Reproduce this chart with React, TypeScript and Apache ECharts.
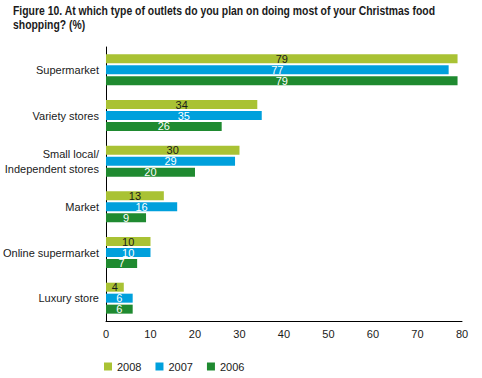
import React, { useEffect, useRef } from "react";
import * as echarts from "echarts";

const categories = [
  "Supermarket",
  "Variety stores",
  "Small local/\nIndependent stores",
  "Market",
  "Online supermarket",
  "Luxury store",
];
const values2008 = [79, 34, 30, 13, 10, 4];
const values2007 = [77, 35, 29, 16, 10, 6];
const values2006 = [79, 26, 20, 9, 7, 6];
const xTicks = [0, 10, 20, 30, 40, 50, 60, 70, 80];

const titleLine1 =
  "Figure 10. At which type of outlets do you plan on doing most of your Christmas food";
const titleLine2 = "shopping? (%)";

export default function App() {
  const ref = useRef<HTMLDivElement>(null);
  useEffect(() => {
    if (!ref.current) return;
    const chart = echarts.init(ref.current, null, { renderer: "svg" });
    const font = "'Liberation Sans', Arial, sans-serif";
    const titleStyle = {
      fontSize: 12,
      fontWeight: "bold",
      fill: "#1a1a1a",
      fontFamily: font,
    };
    const w = (echarts as any).format && (echarts as any).format.getTextRect
      ? (echarts as any).format.getTextRect(titleLine1, "bold 12px " + font).width
      : 520;
    const sx = Math.min(1, 423 / (w || 520));
    const mk = (name: string, data: number[], color: string, labelColor: string) => ({
      name,
      type: "bar",
      data,
      barWidth: 9,
      barGap: "22%",
      itemStyle: { color },
      label: {
        show: true,
        position: "inside",
        color: labelColor,
        fontSize: 11,
        lineHeight: 10,
        fontFamily: font,
      },
    });
    chart.setOption({
      animation: false,
      backgroundColor: "#ffffff",
      graphic: [
        {
          type: "text",
          left: 13,
          top: 5,
          scaleX: sx,
          style: { ...titleStyle, text: titleLine1 },
        },
        {
          type: "text",
          left: 13,
          top: 19,
          scaleX: sx,
          style: { ...titleStyle, text: titleLine2 },
        },
      ],
      legend: {
        left: 99,
        top: 356,
        icon: "rect",
        itemWidth: 8,
        itemHeight: 8,
        itemGap: 14,
        textStyle: { fontSize: 11, color: "#1a1a1a", fontFamily: font },
        data: ["2008", "2007", "2006"],
      },
      grid: { left: 104, right: 20, top: 47, bottom: 57, containLabel: false },
      xAxis: {
        type: "value",
        min: 0,
        max: 80,
        interval: 10,
        axisLine: { show: true, lineStyle: { color: "#000", width: 1 } },
        axisTick: { show: false },
        splitLine: { show: false },
        axisLabel: {
          color: "#1a1a1a",
          fontSize: 11,
          fontFamily: font,
          margin: 7,
          formatter: (v: number) => (xTicks.includes(v) ? String(v) : ""),
        },
      },
      yAxis: {
        type: "category",
        data: categories,
        inverse: true,
        axisLine: { show: true, lineStyle: { color: "#000", width: 1 } },
        axisTick: { show: false },
        axisLabel: {
          color: "#1a1a1a",
          fontSize: 11,
          fontFamily: font,
          margin: 7,
          lineHeight: 15,
        },
      },
      series: [
        mk("2008", values2008, "#a9c234", "#1a1a1a"),
        mk("2007", values2007, "#00a0dc", "#ffffff"),
        mk("2006", values2006, "#1f8a30", "#ffffff"),
      ],
    });
    return () => chart.dispose();
  }, []);
  return (
    <div
      ref={ref}
      style={{ position: "fixed", left: 0, top: 0, width: 482, height: 378 }}
    />
  );
}
